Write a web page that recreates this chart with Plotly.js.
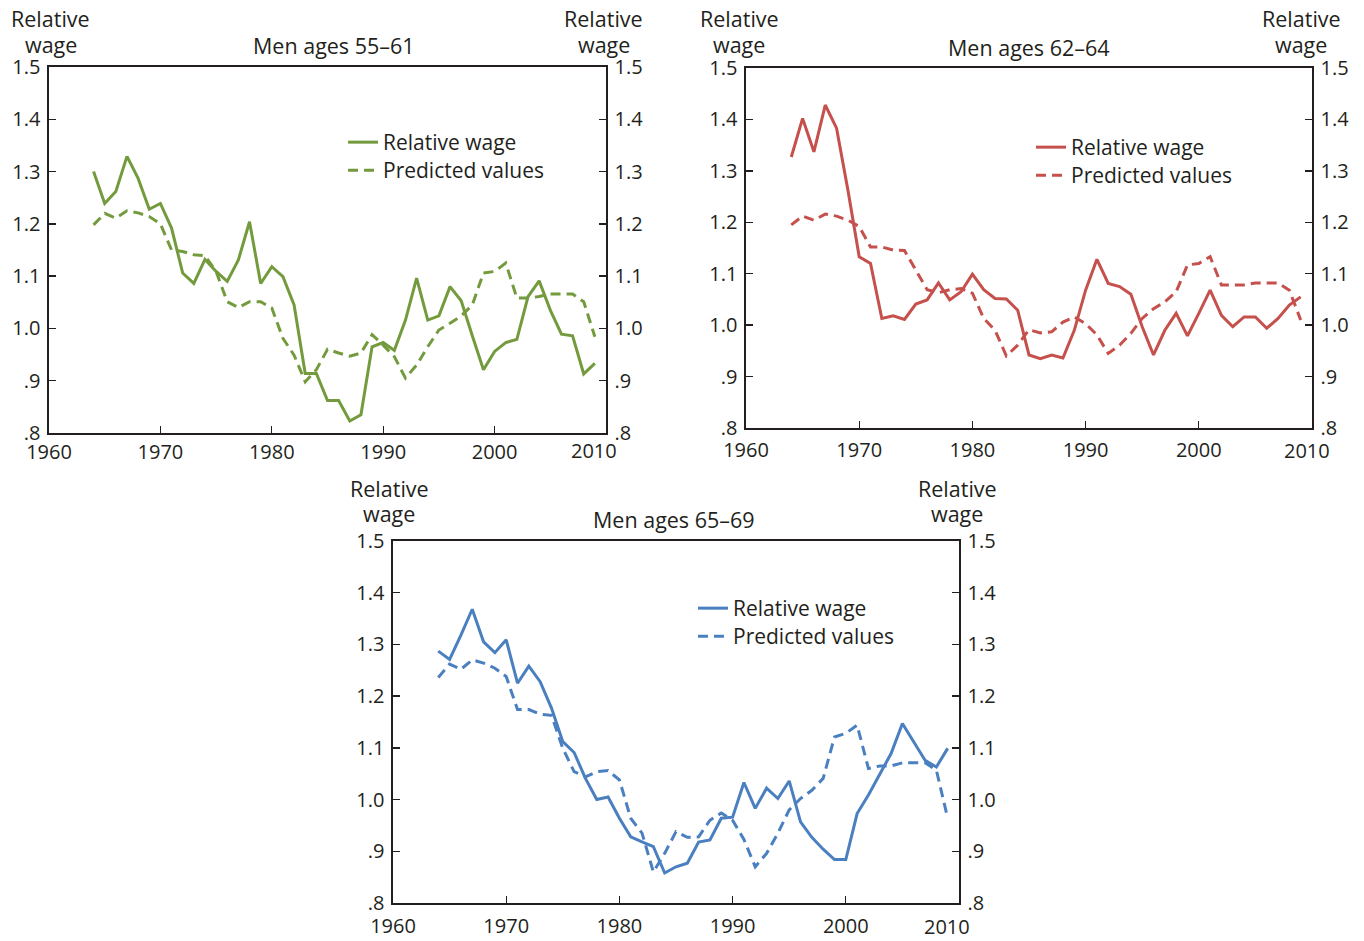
<!DOCTYPE html>
<html>
<head>
<meta charset="utf-8">
<script src="https://cdn.plot.ly/plotly-3.0.1.min.js"></script>
<style>html,body{margin:0;padding:0;background:#fff;}#chart{width:1364px;height:941px;}</style>
</head>
<body>
<div id="chart"></div>
<script>
const years = [1964,1965,1966,1967,1968,1969,1970,1971,1972,1973,1974,1975,1976,1977,1978,1979,1980,1981,1982,1983,1984,1985,1986,1987,1988,1989,1990,1991,1992,1993,1994,1995,1996,1997,1998,1999,2000,2001,2002,2003,2004,2005,2006,2007,2008,2009];

const panelTitles = ["Men ages 55\u201361", "Men ages 62\u201364", "Men ages 65\u201369"];
const seriesNames = ["Relative wage", "Predicted values"];
const yTitleLines = ["Relative", "wage"];
const xTickVals = [1960,1970,1980,1990,2000,2010];
const xTickText = ["1960","1970","1980","1990","2000","2010"];
const yTickVals = [0.8,0.9,1.0,1.1,1.2,1.3,1.4,1.5];
const yTickText = [".8",".9","1.0","1.1","1.2","1.3","1.4","1.5"];

const wage55 = [1.300,1.239,1.262,1.329,1.287,1.228,1.239,
  1.192,1.106,1.086,1.132,1.109,1.090,1.131,1.204,1.086,1.118,
  1.099,1.045,0.914,0.914,0.862,0.862,0.823,0.835,0.965,0.973,
  0.958,1.016,1.096,1.016,1.024,1.080,1.053,0.986,0.921,0.956,
  0.973,0.979,1.061,1.091,1.035,0.989,0.986,0.913,0.933];
const pred55 = [1.198,1.220,1.211,1.225,1.221,1.214,1.200,
  1.150,1.147,1.141,1.139,1.109,1.051,1.040,1.051,1.051,1.039,
  0.981,0.949,0.898,0.921,0.960,0.953,0.947,0.953,0.988,0.968,
  0.946,0.905,0.930,0.965,0.997,1.010,1.024,1.045,1.106,1.109,
  1.125,1.058,1.058,1.061,1.066,1.066,1.066,1.051,0.984];

const wage62 = [1.327,1.402,1.337,1.428,1.383,1.263,1.133,
  1.120,1.013,1.018,1.011,1.041,1.049,1.082,1.049,1.065,1.099,
  1.069,1.052,1.051,1.029,0.942,0.935,0.942,0.936,0.990,1.068,
  1.128,1.081,1.075,1.060,0.997,0.942,0.990,1.023,0.979,1.023,
  1.068,1.019,0.997,1.016,1.016,0.994,1.013,1.039,1.055];
const pred62 = [1.195,1.212,1.204,1.216,1.212,1.204,1.192,
  1.152,1.152,1.146,1.145,1.107,1.069,1.063,1.069,1.071,1.062,
  1.013,0.990,0.940,0.961,0.991,0.985,0.987,1.006,1.016,1.003,
  0.981,0.945,0.961,0.984,1.013,1.032,1.045,1.065,1.117,1.120,
  1.133,1.078,1.078,1.078,1.082,1.082,1.082,1.068,1.010];

const wage65 = [1.287,1.271,1.318,1.368,1.305,1.284,1.309,
  1.225,1.258,1.228,1.177,1.112,1.091,1.041,1.000,1.005,0.964,
  0.928,0.918,0.909,0.858,0.870,0.877,0.918,0.922,0.964,0.966,
  1.033,0.983,1.022,1.002,1.036,0.957,0.927,0.904,0.884,0.884,
  0.973,1.009,1.049,1.089,1.147,1.112,1.076,1.063,1.099];
const pred65 = [1.236,1.262,1.252,1.270,1.264,1.254,1.238,
  1.174,1.174,1.165,1.163,1.099,1.054,1.044,1.054,1.056,1.038,
  0.964,0.935,0.860,0.896,0.938,0.927,0.928,0.960,0.974,0.960,
  0.923,0.870,0.896,0.935,0.980,1.002,1.018,1.041,1.121,1.128,
  1.144,1.060,1.065,1.065,1.071,1.071,1.071,1.057,0.964];

const colors = ["#739b3d", "#c5504c", "#4a7fc0"];
const textColor = "#231f20";
const FONT = "Open Sans, Noto Sans, sans-serif";
const W = 1364, H = 941;
const BIG = 21.5;
const LEG = 21;

// panel pixel boxes: [left, right, top, bottom]
const boxes = [[49,606,67,433],[746,1312,68,428],[393,959,541,903]];
// legend entry row centres: [x of legend box, solid row centre, dashed row centre]
const legendRows = [[343,143,171],[1031,148,176],[693,609,637]];
const titlePos = [[333.5,45],[1028.5,48],[673.5,519]];
const yTitleX = [[50.5,603.5],[739,1301],[389,957]];
const yTitleY = [[19,44],[19,44],[488,513]];
const xLabelStandoff = [0, 3, 4];
const lastLabel = [[594,451],[1307,450],[947,926]];
const wages = [wage55, wage62, wage65];
const preds = [pred55, pred62, pred65];

const data = [];
const layout = {
  width: W, height: H,
  margin: {l:0,r:0,t:0,b:0},
  showlegend: true,
  paper_bgcolor: "#fff", plot_bgcolor: "rgba(0,0,0,0)",
  font: {family: FONT, color: textColor, size: 20},
  annotations: []
};

function ann(text, xpx, ypx, size) {
  return {text: text, xref: "paper", yref: "paper", x: xpx/W, y: 1 - ypx/H,
    xanchor: "center", yanchor: "middle", showarrow: false,
    font: {size: size, family: FONT, color: textColor}};
}
function legendAt(xpx, rowCentre) {
  return {visible: true, x: xpx/W, y: 1 - (rowCentre - 21)/H, xanchor: "left", yanchor: "top",
    bgcolor: "rgba(0,0,0,0)", borderwidth: 0, itemwidth: 30, tracegroupgap: 0,
    font: {size: LEG, family: FONT, color: textColor}};
}

for (let i = 0; i < 3; i++) {
  const [l, r, t, b] = boxes[i];
  const xName = i === 0 ? "x" : "x" + (i+1);
  const yL = i === 0 ? "y" : "y" + (2*i+1);
  const yR = "y" + (2*i+2);
  const legA = i === 0 ? "legend" : "legend" + (2*i+1);
  const legB = "legend" + (2*i+2);
  data.push({x: years, y: wages[i], xaxis: xName, yaxis: yL, type: "scatter", mode: "lines",
    name: seriesNames[0], showlegend: true, line: {color: colors[i], width: 3}, legend: legA});
  data.push({x: years, y: preds[i], xaxis: xName, yaxis: yR, type: "scatter", mode: "lines",
    name: seriesNames[1], showlegend: true, line: {color: colors[i], width: 3, dash: "10px,6px"}, legend: legB});

  const xk = i === 0 ? "xaxis" : "xaxis" + (i+1);
  const yLk = i === 0 ? "yaxis" : "yaxis" + (2*i+1);
  const yRk = "yaxis" + (2*i+2);
  const ydom = [1 - b/H, 1 - t/H];
  // last x tick label ("2010") is drawn as a shifted annotation, as in the reference
  const xTT = xTickText.slice(0, -1).concat([""]);
  layout[xk] = {domain: [l/W, r/W], range: [1960, 2010], anchor: yL,
    tickvals: xTickVals, ticktext: xTT, ticks: "inside", ticklen: 7, tickwidth: 1.3,
    tickcolor: textColor, showline: true, linecolor: textColor, linewidth: 1.6, mirror: true,
    showgrid: false, zeroline: false, fixedrange: true, ticklabelstandoff: xLabelStandoff[i],
    tickfont: {size: 20, family: FONT, color: textColor}};
  layout[yLk] = {domain: ydom, range: [0.8, 1.5], anchor: xName,
    tickvals: yTickVals, ticktext: yTickText, ticks: "inside", ticklen: 7, tickwidth: 1.3,
    tickcolor: textColor, showline: true, linecolor: textColor, linewidth: 1.6,
    showgrid: false, zeroline: false, fixedrange: true, ticklabelstandoff: 3,
    tickfont: {size: 20, family: FONT, color: textColor}};
  layout[yRk] = {range: [0.8, 1.5], anchor: xName, overlaying: yL, side: "right",
    tickvals: yTickVals, ticktext: yTickText, ticks: "inside", ticklen: 7, tickwidth: 1.3,
    tickcolor: textColor, showline: true, linecolor: textColor, linewidth: 1.6,
    showgrid: false, zeroline: false, fixedrange: true, ticklabelstandoff: 3,
    tickfont: {size: 20, family: FONT, color: textColor}};

  layout[legA] = legendAt(legendRows[i][0], legendRows[i][1]);
  layout[legB] = legendAt(legendRows[i][0], legendRows[i][2]);

  layout.annotations.push(ann(panelTitles[i], titlePos[i][0], titlePos[i][1], BIG));
  for (let s = 0; s < 2; s++) {
    layout.annotations.push(ann(yTitleLines[0], yTitleX[i][s], yTitleY[i][0], BIG));
    layout.annotations.push(ann(yTitleLines[1], yTitleX[i][s], yTitleY[i][1], BIG));
  }
  layout.annotations.push(ann(xTickText[xTickText.length - 1], lastLabel[i][0], lastLabel[i][1], 20));
}

Plotly.newPlot("chart", data, layout, {staticPlot: true, displayModeBar: false});
</script>
</body>
</html>
